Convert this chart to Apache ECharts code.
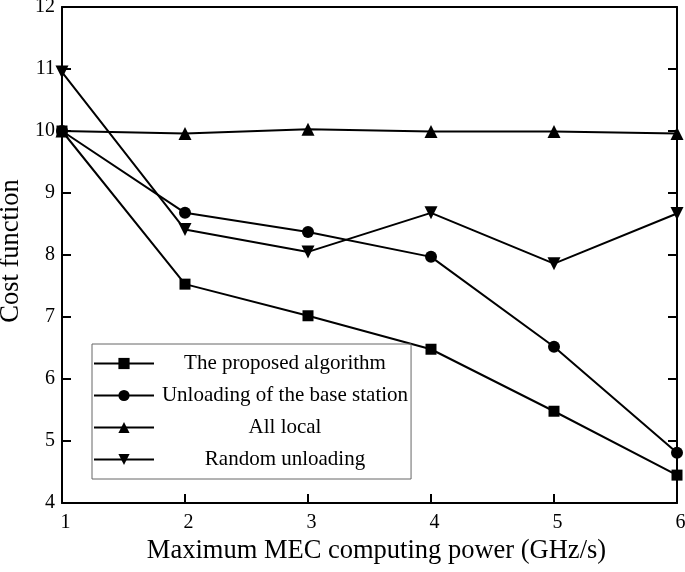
<!DOCTYPE html>
<html>
<head>
<meta charset="utf-8">
<script src="https://cdn.jsdelivr.net/npm/echarts@6/dist/echarts.min.js"></script>
<style>html,body{margin:0;padding:0;background:#fff;}#c{width:685px;height:572px;}</style>
</head>
<body>
<div id="c"></div>
<script>
const xValues = [1, 2, 3, 4, 5, 6];
const proposed = [10.0, 7.53, 7.02, 6.48, 5.48, 4.45];
const baseStation = [10.0, 8.68, 8.37, 7.97, 6.52, 4.81];
const allLocal = [10.0, 9.96, 10.03, 9.99, 9.99, 9.96];
const randomUnloading = [10.95, 8.41, 8.05, 8.68, 7.86, 8.67];
const seriesNames = ['The proposed algorithm', 'Unloading of the base station', 'All local', 'Random unloading'];
const xTitle = 'Maximum MEC computing power (GHz/s)';
const yTitle = 'Cost function';

const font = 'Liberation Serif';
function pairs(arr) { return xValues.map((x, i) => [x, arr[i]]); }
function mk(name, data, symbol, size, rot) {
  return {
    name: name, type: 'line', data: pairs(data),
    symbol: symbol, symbolSize: size, symbolRotate: rot || 0,
    lineStyle: { color: '#000', width: 2 },
    itemStyle: { color: '#000' },
    animation: false
  };
}
const chart = echarts.init(document.getElementById('c'));
chart.setOption({
  backgroundColor: '#fff',
  animation: false,
  grid: { left: 62, top: 7, right: 8, bottom: 69, containLabel: false, outerBoundsMode: 'none' },
  xAxis: [{
    type: 'value', min: 1, max: 6, interval: 1,
    name: xTitle, nameLocation: 'middle', nameGap: 20,
    nameTextStyle: { fontFamily: font, fontSize: 26.5, color: '#000', verticalAlign: 'top', padding: [0, 0, 0, 14] },
    axisLine: { lineStyle: { color: '#000', width: 2 } },
    axisTick: { inside: true, length: 9, lineStyle: { color: '#000', width: 2 } },
    axisLabel: { fontFamily: font, fontSize: 20, color: '#000', margin: 10, padding: [0, 0, 0, 7] },
    splitLine: { show: false }
  }, {
    type: 'value', position: 'top', min: 1, max: 6, interval: 1,
    axisLine: { show: true, lineStyle: { color: '#000', width: 2 } },
    axisTick: { show: false }, axisLabel: { show: false }, splitLine: { show: false }
  }],
  yAxis: [{
    type: 'value', min: 4, max: 12, interval: 1,
    name: yTitle, nameLocation: 'middle', nameGap: 35,
    nameTextStyle: { fontFamily: font, fontSize: 26.5, color: '#000', padding: [0, 0, 0, 8] },
    axisLine: { show: true, lineStyle: { color: '#000', width: 2 } },
    axisTick: { show: true, inside: true, length: 9, lineStyle: { color: '#000', width: 2 } },
    axisLabel: { fontFamily: font, fontSize: 20, color: '#000', margin: 7 },
    splitLine: { show: false }
  }, {
    type: 'value', position: 'right', min: 4, max: 12, interval: 1,
    axisLine: { show: true, lineStyle: { color: '#000', width: 2 } },
    axisTick: { show: true, inside: true, length: 9, lineStyle: { color: '#000', width: 2 } },
    axisLabel: { show: false }, splitLine: { show: false }
  }],
  legend: {
    orient: 'vertical', left: 92, top: 344,
    padding: [9, 3, 9, 1],
    itemWidth: 60, itemHeight: 14, itemGap: 11,
    borderColor: '#666', borderWidth: 1,
    data: seriesNames,
    formatter: function (n) { return '{a|' + n + '}'; },
    textStyle: {
      fontFamily: font, fontSize: 21, color: '#000',
      rich: { a: { fontFamily: font, fontSize: 21, color: '#000', width: 252, align: 'center', height: 20 } }
    }
  },
  series: [
    mk(seriesNames[0], proposed, 'rect', 11),
    mk(seriesNames[1], baseStation, 'circle', 12),
    mk(seriesNames[2], allLocal, 'triangle', 13),
    mk(seriesNames[3], randomUnloading, 'triangle', 13, 180)
  ]
});
</script>
</body>
</html>
